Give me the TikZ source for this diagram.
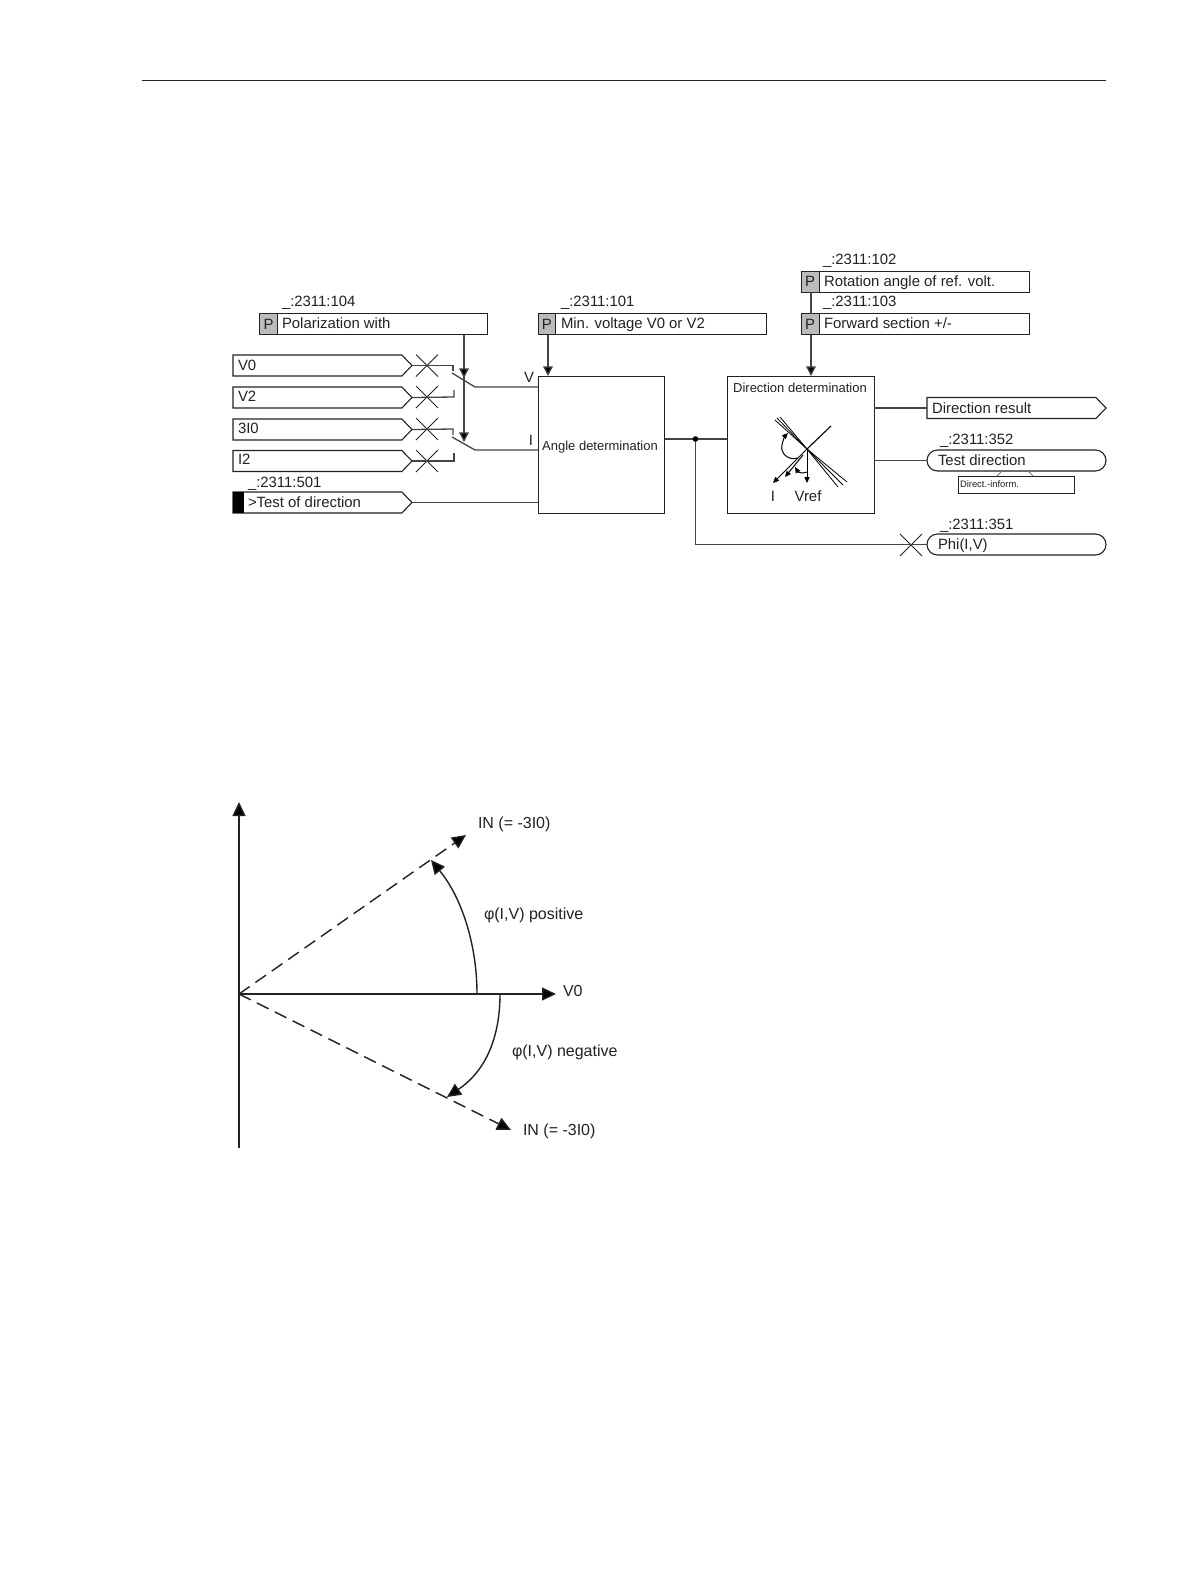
\documentclass[tikz,border=0pt]{standalone}
\usepackage{fontspec}
\setmainfont{Liberation Sans}
\usetikzlibrary{arrows.meta,shapes.symbols,shapes.misc}
\newcommand\fs{\fontsize{7.45}{9}\selectfont}
\newcommand\fl{\fontsize{8}{10}\selectfont}
\newcommand\fm{\fontsize{6.5}{8}\selectfont}
\newcommand\fn{\fontsize{4.7}{6}\selectfont}
\definecolor{ink}{HTML}{222222}
\definecolor{wire}{HTML}{444444}
\definecolor{pgrey}{HTML}{BBBBBB}
\tikzset{
  x=0.5pt,y=-0.5pt,
  every node/.style={inner sep=0pt,outer sep=0pt,text=ink},
  lbl/.style={anchor=west,font=\fs,text height=5.35pt,text depth=0pt},
  lblc/.style={anchor=center,font=\fs,text height=5.35pt,text depth=0pt},
  lbll/.style={anchor=west,font=\fl,text height=5.75pt,text depth=0pt},
  lblm/.style={anchor=center,font=\fm,text height=4.65pt,text depth=0pt},
  wireline/.style={draw=wire,line width=0.65pt},
  arr/.style={wireline,-{Triangle[length=4.8pt,width=4.8pt,fill=black]}},
  chartline/.style={draw=ink,line width=0.7pt,-{Triangle[length=7pt,width=6.5pt,fill=black]}},
  chartdash/.style={chartline,dash pattern=on 6.5pt off 3.5pt},
  boxs/.style={draw=ink,line width=0.5pt,rectangle,fill=white},
  pcell/.style={boxs,fill=pgrey},
  sigs/.style={draw=ink,line width=0.55pt,signal,signal to=east,signal from=nowhere,signal pointer angle=92,minimum width=89.5pt,minimum height=10.5pt,fill=white},
  xmark/.style={draw=ink,line width=0.45pt,cross out,minimum size=11pt},
  pill/.style={draw=ink,line width=0.55pt,rounded rectangle,fill=white,minimum width=89.5pt,minimum height=10.5pt},
  mini/.style={draw=black,line width=0.5pt,-{Triangle[length=3pt,width=2.6pt,fill=black]}},
}
\newcommand\bx[6][boxs]{\node[#1,minimum width={(#5-#3)*0.5pt},minimum height={(#6-#4)*0.5pt}] (#2) at ({(#3+#5)/2},{(#4+#6)/2}) {};}
\begin{document}
\begin{tikzpicture}
\useasboundingbox[fill=white] (0,0) rectangle (1191,1587);
\coordinate (ruleL) at (142,80);
\coordinate (ruleR) at (1106,80);
\draw[ink,line width=0.5pt] (ruleL) -- (ruleR);

% parameter boxes
\bx{pol}{259.5}{313.5}{487.5}{334.5}
\bx[pcell]{polP}{259.5}{313.5}{277.5}{334.5}
\node[lblc] (polPt) at (polP) {P};
\node[lbl] (polT) at (282,323) {Polarization with};
\node[lbl] (polL) at (282,301) {\_:2311:104};

\bx{min}{538}{313.5}{766.5}{334.5}
\bx[pcell]{minP}{538}{313.5}{555.5}{334.5}
\node[lblc] (minPt) at (minP) {P};
\node[lbl] (minT) at (561,323) {Min. voltage V0 or V2};
\node[lbl] (minL) at (561,301) {\_:2311:101};

\bx{rot}{801}{271}{1029}{292}
\bx[pcell]{rotP}{801}{271}{819}{292}
\node[lblc] (rotPt) at (rotP) {P};
\node[lbl] (rotT) at (824,281) {Rotation angle of ref. volt.};
\node[lbl] (rotL) at (823,259) {\_:2311:102};

\bx{fwd}{801}{313.5}{1029}{334.5}
\bx[pcell]{fwdP}{801}{313.5}{819}{334.5}
\node[lblc] (fwdPt) at (fwdP) {P};
\node[lbl] (fwdT) at (824,323) {Forward section +/-};
\node[lbl] (fwdL) at (823,301) {\_:2311:103};

% input signals
\node[sigs,anchor=west] (v0) at (233,365.5) {};
\node[sigs,anchor=west] (v2) at (233,397.5) {};
\node[sigs,anchor=west] (i0) at (233,429.5) {};
\node[sigs,anchor=west] (i2) at (233,461) {};
\node[sigs,anchor=west] (tst) at (233,502.5) {};
\node[rectangle,fill=black,minimum width=5.5pt,minimum height=10.5pt,anchor=west] (tstBar) at (233,502.5) {};
\node[lbl] (v0T) at (238,365) {V0};
\node[lbl] (v2T) at (238,396) {V2};
\node[lbl] (i0T) at (238,428) {3I0};
\node[lbl] (i2T) at (238,459) {I2};
\node[lbl] (tstT) at (248,502) {>Test of direction};
\node[lbl] (tstL) at (248,482) {\_:2311:501};

% blocks
\bx{ang}{538}{376.5}{664.5}{513}
\node[lblm] (angT) at (600,446) {Angle determination};
\node[lblc] (vT) at (529,377) {V};
\node[lblc] (iT) at (531,440) {I};

\bx{dir}{727}{376.5}{874}{513}
\node[lblm] (dirT) at (800,388) {Direction determination};

% crosses on inputs
\node[xmark] (xv0) at (427,365.5) {};
\node[xmark] (xv2) at (427,397) {};
\node[xmark] (xi0) at (427,429) {};
\node[xmark] (xi2) at (427,461) {};

% switch geometry
\coordinate (sa1) at (453,365.5);
\coordinate (sa2) at (453,371);
\coordinate (sb1) at (452,373);
\coordinate (sb2) at (475,387);
\coordinate (va) at (454,397);
\coordinate (vb) at (454,390);
\coordinate (sc1) at (453,429);
\coordinate (sc2) at (453,435);
\coordinate (sd1) at (452,437);
\coordinate (sd2) at (475,450);
\coordinate (ia) at (454,461);
\coordinate (ib) at (454,453);
\coordinate (tipV) at (464,378);
\coordinate (tipI) at (464,442);
\coordinate (tipMin) at (548,376);
\coordinate (tipDir) at (811,376);

\draw[wireline] (v0.east) -- (sa1) -- (sa2);
\draw[wireline] (sb1) -- (sb2) -- (sb2 -| ang.west);
\draw[wireline] (v2.east) -- (va) -- (vb);
\draw[wireline] (i0.east) -- (sc1) -- (sc2);
\draw[wireline] (sd1) -- (sd2) -- (sd2 -| ang.west);
\draw[wireline] (i2.east) -- (ia) -- (ib);
\draw[wireline] (tst.east) -- (tst.east -| ang.west);
\draw[arr] (pol.south -| tipI) -- (tipI);
\draw[arr] (pol.south -| tipV) -- (tipV);
\draw[wireline] (tipV) -- (tipV |- sb2);
\draw[arr] (min.south -| tipMin) -- (tipMin);
\draw[wireline] (rot.south -| tipDir) -- (fwd.north -| tipDir);
\draw[arr] (fwd.south -| tipDir) -- (tipDir);

% outputs
\node[sigs,anchor=west] (res) at (927,408) {};
\node[lbl] (resT) at (932,408) {Direction result};
\node[pill,anchor=west] (tdir) at (927,460.5) {};
\node[lbl] (tdirT) at (938,460) {Test direction};
\node[lbl] (tdirL) at (940,439) {\_:2311:352};
\coordinate (ta) at (997,476);
\coordinate (tb) at (1002,471);
\coordinate (tc) at (1028,471);
\coordinate (td) at (1033,476);
\draw[wire!70,line width=0.4pt] (ta) -- (tb) (tc) -- (td);
\bx{inf}{958}{476}{1074}{493}
\node[anchor=west,font=\fn] (infT) at (960,484) {Direct.-inform.};
\node[pill,anchor=west] (phi) at (927,544.5) {};
\node[lbl] (phiT) at (938,544) {Phi(I,V)};
\node[lbl] (phiL) at (940,524) {\_:2311:351};
\node[xmark] (xphi) at (911,545) {};

\coordinate (jn) at (695.5,439);
\draw[wireline] (ang.east |- jn) -- (dir.west |- jn);
\draw[wireline] (jn) -- (jn |- phi.west) -- (phi.west);
\draw[wireline] (dir.east |- res.west) -- (res.west);
\draw[wireline] (dir.east |- tdir.west) -- (tdir.west);
\fill[black] (jn) circle[radius=1.4pt];

% characteristic inside direction block
\coordinate (cc) at (807,449);
\coordinate (ca) at (831,426);
\coordinate (cI) at (773,483);
\coordinate (cIb) at (803,455);
\coordinate (cI2) at (785,477);
\coordinate (cV) at (807,483);
\coordinate (f1a) at (775,420);
\coordinate (f1b) at (838,487);
\coordinate (f2a) at (777,418);
\coordinate (f2b) at (843,485);
\coordinate (f3a) at (780,417);
\coordinate (f3b) at (847,482);
\draw[black,line width=0.4pt] (f1a) -- (cc) -- (f1b);
\draw[black,line width=0.4pt] (f2a) -- (cc) -- (f2b);
\draw[black,line width=0.4pt] (f3a) -- (cc) -- (f3b);
\draw[black,line width=0.55pt] (ca) -- (cc);
\draw[mini] (cc) -- (cI);
\draw[mini] (cIb) -- (cI2);
\draw[mini] (cc) -- (cV);
\draw[mini] (798,458) .. controls (788,461) and (780,453) .. (782,445) .. controls (783,440) and (785,436) .. (788,433);
\draw[mini] (807,472) .. controls (803,474) and (798,472) .. (795,467);
\node[lblc] (cIT) at (773,496) {I};
\node[lblc] (cVT) at (808,496) {Vref};

% phasor diagram
\coordinate (o) at (239,994);
\coordinate (oBot) at (239,1148);
\coordinate (oTop) at (239,802);
\coordinate (oRt) at (556,994);
\coordinate (oUp) at (466,835);
\coordinate (oDn) at (511,1130);
\draw[chartline] (oBot) -- (oTop);
\draw[chartline] (o) -- (oRt);
\draw[chartdash] (o) -- (oUp);
\draw[chartdash] (o) -- (oDn);
\coordinate (pa) at (477,994);
\coordinate (pb) at (431,860);
\coordinate (na) at (500,994);
\coordinate (nb) at (447,1097);
\draw[chartline] (pa) .. controls (477,945) and (462,898) .. (pb);
\draw[chartline] (na) .. controls (500,1030) and (490,1068) .. (nb);
\node[lbll] (v0L) at (563,991) {V0};
\node[lbll] (inU) at (478,823) {IN (= -3I0)};
\node[lbll] (inD) at (523,1130) {IN (= -3I0)};
\node[lbll] (pos) at (484,914) {φ(I,V) positive};
\node[lbll] (neg) at (512,1051) {φ(I,V) negative};
\end{tikzpicture}
\end{document}
